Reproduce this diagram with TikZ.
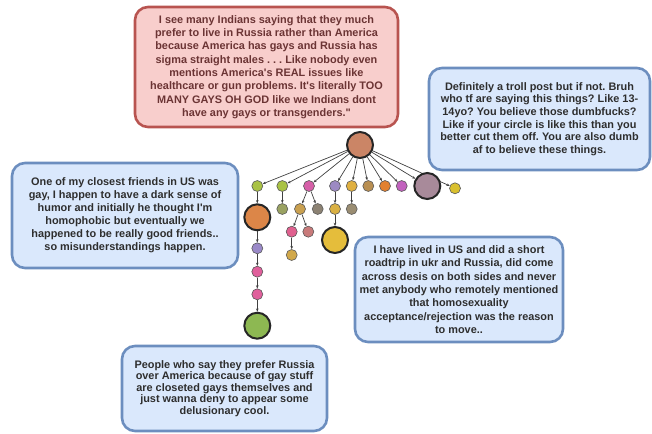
\documentclass[tikz,border=0pt]{standalone}
\usepackage{fontspec}
\setmainfont{Liberation Sans}[Ligatures=TeXOff]
\usetikzlibrary{arrows.meta}
\pgfdeclarelayer{background}
\pgfsetlayers{background,main}
\definecolor{redf}{HTML}{F8CECC}
\definecolor{redb}{HTML}{B85450}
\definecolor{redt}{HTML}{6B3434}
\definecolor{bluef}{HTML}{DAE8FC}
\definecolor{blueb}{HTML}{6C8EBF}
\definecolor{bluet}{HTML}{2E2E2E}
\definecolor{cRoot}{HTML}{CB8566}
\definecolor{cYG}{HTML}{A9C244}
\definecolor{cMag}{HTML}{D65FA8}
\definecolor{cLav}{HTML}{9C8AC2}
\definecolor{cGold}{HTML}{E0B040}
\definecolor{cTan}{HTML}{B98F52}
\definecolor{cOra}{HTML}{E2802F}
\definecolor{cPur}{HTML}{C262BE}
\definecolor{cMauve}{HTML}{A88A9A}
\definecolor{cYel}{HTML}{D9C02E}
\definecolor{cOlive}{HTML}{9AA262}
\definecolor{cTan2}{HTML}{C9A050}
\definecolor{cGray}{HTML}{8C8273}
\definecolor{cGold2}{HTML}{D9B043}
\definecolor{cGB}{HTML}{9A8D72}
\definecolor{cBigO}{HTML}{DC8648}
\definecolor{cPink}{HTML}{E0608F}
\definecolor{cRose}{HTML}{C87A7A}
\definecolor{cTan3}{HTML}{D1A84A}
\definecolor{cBigG}{HTML}{E5BD3B}
\definecolor{cLav2}{HTML}{9A89C8}
\definecolor{cPink2}{HTML}{E0609C}
\definecolor{cGreen}{HTML}{8DB852}
\begin{document}
\frenchspacing
\begin{tikzpicture}[x=1pt,y=-1pt,
  redbox/.style={draw=redb,fill=redf,line width=2.6pt,rounded corners=13pt,text=redt,
    font=\frenchspacing\bfseries\fontsize{10.9}{13.3}\selectfont,align=center,inner sep=0pt},
  bluebox/.style={draw=blueb,fill=bluef,line width=2.6pt,rounded corners=13pt,text=bluet,
    font=\frenchspacing\bfseries\fontsize{10.9}{13}\selectfont,align=center,inner sep=0pt},
  sm/.style={circle,draw=black!65,line width=0.6pt,minimum size=11pt,inner sep=0pt},
  big/.style={circle,draw=black!85,line width=2pt,minimum size=26pt,inner sep=0pt},
  edge/.style={draw=black!75,line width=0.7pt,-{Stealth[length=3.2pt,width=2.6pt]}}
]
\useasboundingbox (0,0) rectangle (652,433);

% boxes
\node[redbox,minimum width=263pt,minimum height=120pt] (post) at (266.5,67)
 {I see many Indians saying that they much\\prefer to live in Russia rather than America\\because America has gays and Russia has\\sigma straight males . . . Like nobody even\\mentions America's REAL issues like\\healthcare or gun problems. It's literally TOO\\MANY GAYS OH GOD like we Indians dont\\have any gays or transgenders."};
\node[bluebox,minimum width=221pt,minimum height=102pt,font=\frenchspacing\bfseries\fontsize{10.9}{12.7}\selectfont] (c1) at (539.5,119)
 {Definitely a troll post but if not. Bruh\\who tf are saying this things? Like 13-\\14yo? You believe those dumbfucks?\\Like if your circle is like this than you\\better cut them off. You are also dumb\\af to believe these things.};
\node[bluebox,minimum width=226pt,minimum height=105pt] (c2) at (125,215.5)
 {One of my closest friends in US was\\gay, I happen to have a dark sense of\\humor and initially he thought I'm\\homophobic but eventually we\\happened to be really good friends..\\so misunderstandings happen.};
\node[bluebox,minimum width=208pt,minimum height=105pt,font=\frenchspacing\bfseries\fontsize{10.9}{13.3}\selectfont] (c3) at (459,289.5)
 {I have lived in US and did a short\\roadtrip in ukr and Russia, did come\\across desis on both sides and never\\met anybody who remotely mentioned\\that homosexuality\\acceptance/rejection was the reason\\to move..};
\node[bluebox,minimum width=205pt,minimum height=85pt,font=\frenchspacing\bfseries\fontsize{10.9}{11.4}\selectfont] (c4) at (224.5,388.5)
 {People who say they prefer Russia\\over America because of gay stuff\\are closeted gays themselves and\\just wanna deny to appear some\\delusionary cool.};

% tree nodes
\node[big,fill=cRoot] (root) at (360,145) {};
\node[sm,fill=cYG] (a1) at (257.3,186) {};
\node[sm,fill=cYG] (a2) at (282.3,186) {};
\node[sm,fill=cMag] (a3) at (309,186) {};
\node[sm,fill=cLav] (a4) at (335,186) {};
\node[sm,fill=cGold] (a5) at (351.7,186) {};
\node[sm,fill=cTan] (a6) at (368.3,186) {};
\node[sm,fill=cOra] (a7) at (385,186) {};
\node[sm,fill=cPur] (a8) at (401.7,186) {};
\node[big,fill=cMauve] (a9) at (427.3,186) {};
\node[sm,fill=cYel] (a10) at (455,188.3) {};

\node[sm,fill=cOlive] (b1) at (282.3,209) {};
\node[sm,fill=cTan2] (b2) at (300,209) {};
\node[sm,fill=cGray] (b3) at (317.7,209) {};
\node[sm,fill=cGold2] (b4) at (335,209) {};
\node[sm,fill=cGB] (b5) at (351.7,209) {};

\node[big,fill=cBigO] (o1) at (257.3,217.3) {};
\node[sm,fill=cPink] (e1) at (291.7,231.7) {};
\node[sm,fill=cRose] (e2) at (308.3,231.7) {};
\node[sm,fill=cTan3] (f1) at (291.7,255) {};
\node[big,fill=cBigG] (g1) at (335,240) {};

\node[sm,fill=cLav2] (p1) at (257.3,248.3) {};
\node[sm,fill=cPink2] (p2) at (257.3,271.7) {};
\node[sm,fill=cPink2] (p3) at (257.3,294.3) {};
\node[big,fill=cGreen] (gr) at (257.3,325.7) {};

\begin{pgfonlayer}{background}
\foreach \t in {a1,a2,a3,a4,a5,a6,a7,a8,a9,a10}
  \draw[edge] (root) -- (\t);
\draw[edge] (a1) -- (o1);
\draw[edge] (o1) -- (p1);
\draw[edge] (p1) -- (p2);
\draw[edge] (p2) -- (p3);
\draw[edge] (p3) -- (gr);
\draw[edge] (a2) -- (b1);
\draw[edge] (a3) -- (b2);
\draw[edge] (a3) -- (b3);
\draw[edge] (b2) -- (e1);
\draw[edge] (b2) -- (e2);
\draw[edge] (e1) -- (f1);
\draw[edge] (a4) -- (b4);
\draw[edge] (b4) -- (g1);
\draw[edge] (a5) -- (b5);
\end{pgfonlayer}
\end{tikzpicture}
\end{document}
